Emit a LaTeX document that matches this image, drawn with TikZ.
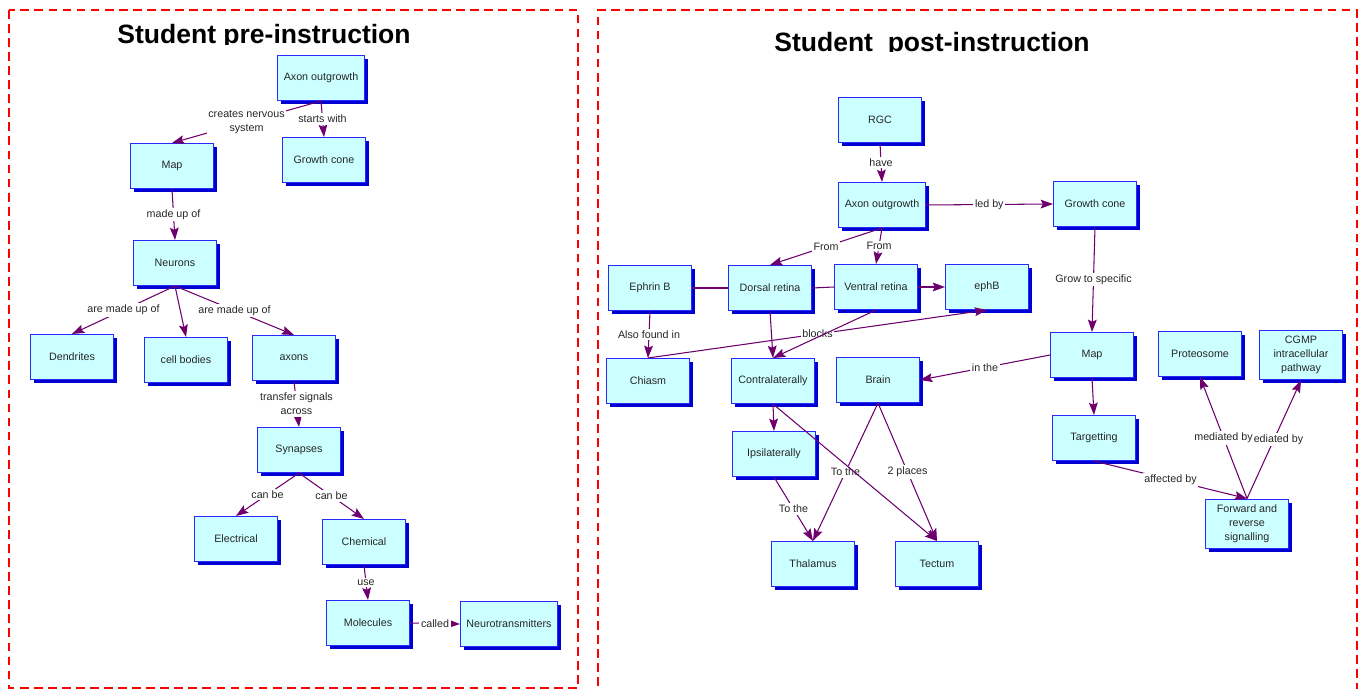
\documentclass[tikz,border=0pt]{standalone}
\usepackage{fontspec}
\setmainfont{Liberation Sans}
\usetikzlibrary{arrows.meta,shadows}

\definecolor{boxfill}{RGB}{204,255,255}
\definecolor{boxline}{RGB}{40,40,255}
\definecolor{boxshade}{RGB}{0,0,210}
\definecolor{linkcol}{RGB}{110,0,110}

\begin{document}
\begin{tikzpicture}[x=0.02cm, y=-0.02cm,
    concept/.style={draw=boxline, fill=boxfill, line width=0.6pt, minimum width=1.66cm, minimum height=0.9cm, font=\fontsize{6.1}{8}\selectfont, text=black!85, align=center, drop shadow={shadow xshift=0.07cm, shadow yshift=-0.07cm, fill=boxshade, opacity=1}},
    link/.style={>={Stealth[length=7pt, width=5pt, inset=1.2pt]}, ->, draw=linkcol, line width=0.6pt},
    plain/.style={draw=linkcol, line width=0.6pt},
    lbl/.style={fill=white, font=\fontsize{6.1}{8}\selectfont, text=black!85, inner sep=1pt, align=center},
    frame/.style={red, line width=1.1pt, dash pattern=on 5pt off 3pt},
    title/.style={font=\fontsize{15.1}{18}\selectfont\bfseries, anchor=base}
]
\useasboundingbox (0,0) rectangle (1359,689);

% Frames
\draw[frame] (9,10) rectangle (578,688);
\draw[frame] (598,700) -- (598,10) -- (1357,10) -- (1357,700);

% Titles (cut off at the baseline)
\begin{scope}
  \clip (20,12) rectangle (570,45);
  \node[title] (pretitle) at (264,44) {Student pre-instruction};
\end{scope}
\begin{scope}
  \clip (610,12) rectangle (1350,52);
  \node[title] (posttitle) at (932,52) {Student\ \ post-instruction};
\end{scope}

% Pre-instruction map
\node[concept] (preaxon) at (321,78) {Axon outgrowth};
\node[concept] (premap) at (172,166) {Map};
\node[concept] (pregrowth) at (324,160) {Growth cone};
\node[concept] (neurons) at (175,263) {Neurons};
\node[concept] (dendrites) at (72,357) {Dendrites};
\node[concept] (cellbodies) at (186,360) {cell bodies};
\node[concept] (axons) at (294,358) {axons};
\node[concept] (synapses) at (299,450) {Synapses};
\node[concept] (electrical) at (236,539) {Electrical};
\node[concept] (chemical) at (364,542) {Chemical};
\node[concept] (molecules) at (368,623) {Molecules};
\node[concept] (neurotrans) at (509,624) {Neurotransmitters};

\draw[link] (preaxon.south) -- node[lbl] {creates nervous\\system} (premap.north);
\draw[link] (preaxon.south) -- node[lbl] {starts with} (pregrowth.north);
\draw[link] (premap.south) -- node[lbl] {made up of} (neurons.north);
\draw[link] (neurons.south) -- node[lbl] {are made up of} (dendrites.north);
\draw[link] (neurons.south) -- (cellbodies.north);
\draw[link] (neurons.south) -- node[lbl] {are made up of} (axons.north);
\draw[link] (axons.south) -- node[lbl] {transfer signals\\across} (synapses.north);
\draw[link] (synapses.south) -- node[lbl] {can be} (electrical.north);
\draw[link] (synapses.south) -- node[lbl] {can be} (chemical.north);
\draw[link] (chemical.south) -- node[lbl] {use} (molecules.north);
\draw[link] (molecules.east) -- node[lbl] {called} (neurotrans.west);

% Post-instruction map
\node[concept] (rgc) at (880,120) {RGC};
\node[concept] (postaxon) at (882,205) {Axon outgrowth};
\node[concept] (postgrowth) at (1095,204) {Growth cone};
\node[concept] (ephrinb) at (650,288) {Ephrin B};
\node[concept] (dorsal) at (770,288) {Dorsal retina};
\node[concept] (ventral) at (876,287) {Ventral retina};
\node[concept] (ephb) at (987,287) {ephB};
\node[concept] (chiasm) at (648,381) {Chiasm};
\node[concept] (contra) at (773,381) {Contralaterally};
\node[concept] (brain) at (878,380) {Brain};
\node[concept] (ipsi) at (774,454) {Ipsilaterally};
\node[concept] (thalamus) at (813,564) {Thalamus};
\node[concept] (tectum) at (937,564) {Tectum};
\node[concept] (postmap) at (1092,355) {Map};
\node[concept] (targetting) at (1094,438) {Targetting};
\node[concept] (proteosome) at (1200,354) {Proteosome};
\node[concept] (cgmp) at (1301,355) {CGMP\\intracellular\\pathway};
\node[concept] (forward) at (1247,524) {Forward and\\reverse\\signalling};

\draw[link] (rgc.south) -- node[lbl] {have} (postaxon.north);
\draw[link] (postaxon.east) -- node[lbl] {led by} (postgrowth.west);
\draw[link] (postaxon.south) -- node[lbl] {From} (dorsal.north);
\draw[link] (postaxon.south) -- node[lbl] {From} (ventral.north);
\draw[plain] (ephrinb.east) -- (dorsal.west);
\draw[plain] (dorsal.east) -- (ventral.west);
\draw[link] (ventral.east) -- (ephb.west);
\draw[link] (ephrinb.south) -- node[lbl] {Also found in} (chiasm.north);
\draw[link] (chiasm.north) -- node[lbl] {blocks} (ephb.south);
\draw[link] (dorsal.south) -- (contra.north);
\draw[link] (ventral.south) -- (contra.north);
\draw[link] (contra.south) -- (ipsi.north);
\draw[link] (ipsi.south) -- node[lbl] {To the} (thalamus.north);
\draw[link] (brain.south) -- node[lbl] {To the} (thalamus.north);
\draw[link] (brain.south) -- node[lbl] {2 places} (tectum.north);
\draw[link] (contra.south) -- (tectum.north);
\draw[link] (postgrowth.south) -- node[lbl] {Grow to specific} (postmap.north);
\draw[link] (postmap.west) -- node[lbl] {in the} (brain.east);
\draw[link] (postmap.south) -- (targetting.north);
\draw[link] (targetting.south) -- node[lbl] {affected by} (forward.north);
\draw[link] (forward.north) -- node[lbl] {mediated by} (cgmp.south);
\draw[link] (forward.north) -- node[lbl] {mediated by} (proteosome.south);
\end{tikzpicture}
\end{document}
